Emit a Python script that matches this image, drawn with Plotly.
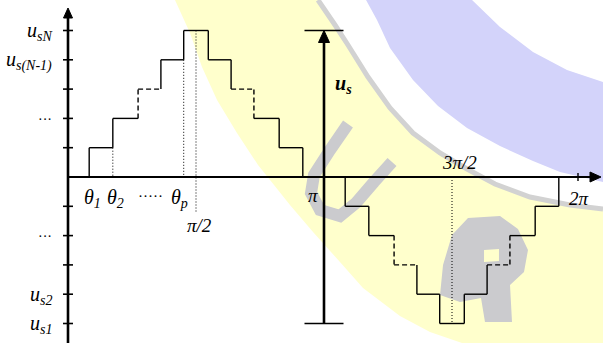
import math
import plotly.graph_objects as go

# ---- data -------------------------------------------------------------
# switching angles (rad) of the first quarter wave and the level reached
theta = [0.26, 0.55, 0.86, 1.14, 1.42]
levels = [1, 2, 3, 4, 5]
gap_level = 3            # the unspecified middle level, drawn dashed

# vertical axis labels (level -> text)
y_labels = {
    5: "u<sub>sN</sub>",
    4: "u<sub>s(N-1)</sub>",
    2: "···",
    -2: "···",
    -4: "u<sub>s2</sub>",
    -5: "u<sub>s1</sub>",
}
y_tick_levels = [5, 4, 3, 2, 1, -1, -2, -3, -4, -5]

# ---- geometry of the canvas ------------------------------------------
W, H = 603, 343
X0_PX, Y0_PX = 68, 177            # where the origin sits
PX_PER_RAD = 512 / (2 * math.pi)
PX_PER_LEVEL = 29.3

x_range = [-X0_PX / PX_PER_RAD, (W - X0_PX) / PX_PER_RAD]
y_range = [(Y0_PX - H) / PX_PER_LEVEL, Y0_PX / PX_PER_LEVEL]


def dx(px):
    return px / PX_PER_RAD


def dy(px):
    return px / PX_PER_LEVEL


PI = math.pi

# ---- staircase ---------------------------------------------------------
segments = []  # (x0, y0, x1, y1, dashed)
n = len(theta)
for i in range(n):
    prev = levels[i - 1] if i > 0 else 0
    lv = levels[i]
    x_next = theta[i + 1] if i + 1 < n else PI - theta[i]
    dash = lv == gap_level
    # rising edge and tread, plus their mirror on the falling side
    segments.append((theta[i], prev, theta[i], lv, dash))
    segments.append((theta[i], lv, x_next, lv, dash))
    segments.append((PI - theta[i], prev, PI - theta[i], lv, dash))
    if i + 1 < n:
        segments.append((PI - x_next, lv, PI - theta[i], lv, dash))

# negative half wave
segments += [(x0 + PI, -y0, x1 + PI, -y1, d) for (x0, y0, x1, y1, d) in segments]

solid_x, solid_y, dash_x, dash_y = [], [], [], []
for x0, y0, x1, y1, d in segments:
    xs, ys = (dash_x, dash_y) if d else (solid_x, solid_y)
    xs += [x0, x1, None]
    ys += [y0, y1, None]

fig = go.Figure()
fig.add_trace(go.Scatter(x=solid_x, y=solid_y, mode="lines",
                         line=dict(color="black", width=1.4), hoverinfo="skip"))
fig.add_trace(go.Scatter(x=dash_x, y=dash_y, mode="lines",
                         line=dict(color="black", width=1.4, dash="5px,3px"),
                         hoverinfo="skip"))

# dotted guide lines
dots = [
    (theta[1], levels[0], 0),
    (theta[-1], levels[-2], 0),
    (PI / 2, levels[-1], -dy(36)),
    (3 * PI / 2, 0, -levels[-1]),
]
dot_x, dot_y = [], []
for x, ya, yb in dots:
    dot_x += [x, x, None]
    dot_y += [ya, yb, None]
fig.add_trace(go.Scatter(x=dot_x, y=dot_y, mode="lines",
                         line=dict(color="black", width=1, dash="1px,2px"),
                         hoverinfo="skip"))

shapes = []

# ---- watermark-style background bands ----------------------------------
def paper_path(points, close=True):
    s = "M " + " L ".join(f"{x / W:.4f},{1 - y / H:.4f}" for x, y in points)
    return s + (" Z" if close else "")


band_inner = [(175, 0), (190, 33), (202, 67), (217, 100), (237, 133), (258, 165),
              (270, 180), (290, 205), (313, 232), (340, 262), (363, 288),
              (400, 316), (430, 332), (462, 343)]
band_outer = [(318, 0), (335, 25), (348, 45), (368, 77), (390, 108), (413, 133),
              (440, 153), (467, 169), (495, 184), (530, 197), (570, 205), (603, 209)]
shapes.append(dict(type="path", xref="paper", yref="paper", layer="below",
                   path=paper_path(band_inner + [(603, 343), (603, 209)] + band_outer[::-1]),
                   fillcolor="#ffffcc", line=dict(width=0)))
shapes.append(dict(type="path", xref="paper", yref="paper", layer="below",
                   path=paper_path(band_outer, close=False),
                   line=dict(color="#d2d2d2", width=5)))

lavender = [(366, 0), (377, 20), (390, 48), (413, 80), (438, 106), (467, 128),
            (500, 146), (533, 161), (560, 172), (603, 182), (603, 82), (567, 70),
            (533, 52), (500, 27), (472, 0)]
shapes.append(dict(type="path", xref="paper", yref="paper", layer="below",
                   path=paper_path(lavender), fillcolor="#d3d3fa", line=dict(width=0)))

letter_u = [(348, 124), (330, 150), (314, 175), (311, 193), (320, 210), (340, 216),
            (356, 203), (374, 182), (392, 162)]
shapes.append(dict(type="path", xref="paper", yref="paper", layer="below",
                   path=paper_path(letter_u, close=False),
                   line=dict(color="#cbcbce", width=12)))
letter_p = [(468, 218), (500, 216), (518, 229), (528, 250), (524, 272), (510, 285),
            (512, 322), (485, 322), (481, 298), (460, 302), (440, 295), (443, 265),
            (452, 235)]
shapes.append(dict(type="path", xref="paper", yref="paper", layer="below",
                   path=paper_path(letter_p), fillcolor="#cbcbce", line=dict(width=0)))
shapes.append(dict(type="path", xref="paper", yref="paper", layer="below",
                   path=paper_path([(484, 250), (499, 249), (499, 261), (484, 262)]),
                   fillcolor="#ffffcc", line=dict(width=0)))

# ---- axes --------------------------------------------------------------
ax = dict(xref="x", yref="y", layer="above")
# vertical axis with arrow
shapes.append(dict(type="line", x0=0, x1=0, y0=y_range[0], y1=y_range[1] - dy(16),
                   line=dict(color="black", width=2.6), **ax))
top = y_range[1] - dy(8)
shapes.append(dict(type="path", **ax,
                   path=f"M {-dx(4.5)},{top - dy(10)} L 0,{top} L {dx(4.5)},{top - dy(10)} Z",
                   fillcolor="black", line=dict(color="black", width=1)))
# horizontal axis with arrow
right = x_range[1] - dx(2)
shapes.append(dict(type="line", x0=0, x1=right - dx(8), y0=0, y1=0,
                   line=dict(color="black", width=2.2), **ax))
shapes.append(dict(type="path", **ax,
                   path=f"M {right - dx(11)},{dy(5)} L {right},0 L {right - dx(11)},{-dy(5)} Z",
                   fillcolor="black", line=dict(color="black", width=1)))
# 2π tick
shapes.append(dict(type="line", x0=2 * PI - dx(2), x1=2 * PI - dx(2), y0=dy(4), y1=-dy(4),
                   line=dict(color="black", width=1.4), **ax))
# level ticks
for lv in y_tick_levels:
    shapes.append(dict(type="line", x0=-dx(5), x1=dx(5), y0=lv, y1=lv,
                       line=dict(color="black", width=1.6), **ax))

# amplitude arrow u_s at π
top_lv, bot_lv = levels[-1], -levels[-1]
half_bar = dx(19.5)
shapes.append(dict(type="line", x0=PI, x1=PI, y0=bot_lv, y1=top_lv - dy(8),
                   line=dict(color="black", width=2.6), **ax))
shapes.append(dict(type="line", x0=PI - half_bar, x1=PI + half_bar, y0=top_lv, y1=top_lv,
                   line=dict(color="black", width=1.6), **ax))
shapes.append(dict(type="line", x0=PI - half_bar, x1=PI + half_bar, y0=bot_lv, y1=bot_lv,
                   line=dict(color="black", width=1.6), **ax))
shapes.append(dict(type="path", **ax,
                   path=(f"M {PI - dx(5.5)},{top_lv - dy(12)} L {PI},{top_lv} "
                         f"L {PI + dx(5.5)},{top_lv - dy(12)} Z"),
                   fillcolor="black", line=dict(color="black", width=1)))

# ---- labels ------------------------------------------------------------
FONT = "Liberation Serif"
ann = []


def label(text, x, y, size=17, xanchor="center", yanchor="middle", xshift=0, yshift=0):
    ann.append(dict(text=text, x=x, y=y, xref="x", yref="y", showarrow=False,
                    xanchor=xanchor, yanchor=yanchor, xshift=xshift, yshift=yshift,
                    font=dict(family=FONT, size=size, color="black")))


for lv, txt in y_labels.items():
    if txt == "···":
        label(txt, 0, lv, size=14, xanchor="right", xshift=-14, yshift=-1)
    else:
        label(f"<i>{txt}</i>", 0, lv, size=20, xanchor="right", xshift=-14, yshift=-1)

x_lab_y = -dy(21)
label("<i>θ<sub>1</sub></i>", theta[0], x_lab_y, size=20, xshift=3)
label("<i>θ<sub>2</sub></i>", theta[1], x_lab_y, size=20, xshift=3)
label("·····", (theta[1] + theta[-1]) / 2, x_lab_y, size=15, xshift=2, yshift=2)
label("<i>θ<sub>p</sub></i>", theta[-1], x_lab_y, size=20, xshift=-4)
label("<i>π/2</i>", PI / 2, -dy(48), size=19, xshift=3)
label("<i>π</i>", PI, -dy(18), size=19, xshift=-11)
label("<i>3π/2</i>", 3 * PI / 2, dy(15), size=19, xshift=7)
label("<i>2π</i>", 2 * PI, -dy(21), size=19, xshift=-1)
label("<b><i>u<sub>s</sub></i></b>", PI, dy(93), size=20, xanchor="left", xshift=9)

fig.update_layout(
    width=W, height=H, margin=dict(l=0, r=0, t=0, b=0),
    paper_bgcolor="white", plot_bgcolor="white", showlegend=False,
    xaxis=dict(range=x_range, visible=False, fixedrange=True),
    yaxis=dict(range=y_range, visible=False, fixedrange=True),
    shapes=shapes, annotations=ann,
)

fig.write_html("out.html")
